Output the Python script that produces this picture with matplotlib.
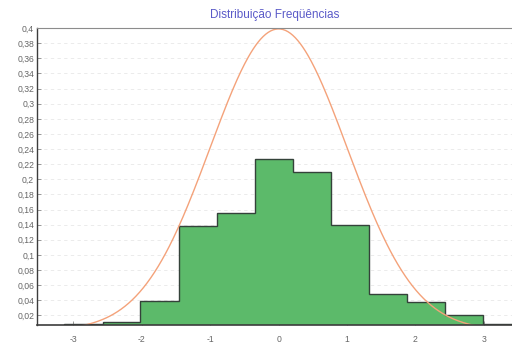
import numpy as np
import matplotlib
matplotlib.use('Agg')
import matplotlib.pyplot as plt

# histogram bins (class edges) and relative frequencies
bin_edges = [-3.13, -2.57, -2.02, -1.46, -0.90, -0.35, 0.21, 0.77,
             1.32, 1.88, 2.43, 2.99, 3.55]
frequencies = [0.009, 0.011, 0.039, 0.138, 0.156, 0.227, 0.210, 0.140,
               0.048, 0.038, 0.0205, 0.009]

x_ticks = [-3, -2, -1, 0, 1, 2, 3]
y_ticks = [0.02, 0.04, 0.06, 0.08, 0.1, 0.12, 0.14, 0.16, 0.18, 0.2,
           0.22, 0.24, 0.26, 0.28, 0.3, 0.32, 0.34, 0.36, 0.38, 0.4]

title = 'Distribuição Freqüências'


def comma_label(v):
    s = ('%.2f' % v).rstrip('0').rstrip('.')
    return s.replace('.', ',')


def main():
    plt.rcParams['font.family'] = ['Liberation Sans', 'DejaVu Sans']

    fig = plt.figure(figsize=(5.12, 3.47), dpi=100)
    ax = fig.add_axes([0.0723, 0.0634, 0.9277, 0.8556])

    # light dashed grid
    ax.set_axisbelow(True)
    ax.grid(True, axis='y', color='#e8e8e8', linestyle=(0, (4, 4)), linewidth=0.6)

    # histogram: filled area plus a step outline (no inner bar edges)
    ax.stairs(frequencies, bin_edges, baseline=0, fill=True,
              color='#5cba6a', linewidth=0)
    ax.stairs(frequencies, bin_edges, baseline=0, fill=False,
              color='#34423a', linewidth=1.0)

    # standard normal curve
    xs = np.linspace(-3.6, 3.6, 400)
    ys = np.exp(-xs ** 2 / 2) / np.sqrt(2 * np.pi)
    ax.plot(xs, ys, color='#f4a27a', linewidth=1.0)

    # axis settings
    ax.set_xlim(-3.53, 3.41)
    ax.set_ylim(0.0073, 0.4)
    ax.set_xticks(x_ticks)
    ax.set_xticklabels([str(t) for t in x_ticks])
    ax.set_yticks(y_ticks)
    ax.set_yticklabels([comma_label(t) for t in y_ticks])
    ax.tick_params(axis='both', labelsize=6.2, labelcolor='#666666',
                   color='#8a8a8a', direction='in', length=3, width=0.6, pad=2)
    ax.tick_params(axis='x', pad=7)

    ax.spines['right'].set_visible(False)
    ax.spines['left'].set_color('#3c3c3c')
    ax.spines['bottom'].set_color('#3c3c3c')
    ax.spines['top'].set_color('#8c8c8c')
    ax.spines['left'].set_linewidth(1.0)
    ax.spines['bottom'].set_linewidth(1.2)

    ax.set_title(title, fontsize=8.5, color='#5a5ac8', pad=7)

    plt.savefig('out.png', dpi=100)


if __name__ == '__main__':
    main()
